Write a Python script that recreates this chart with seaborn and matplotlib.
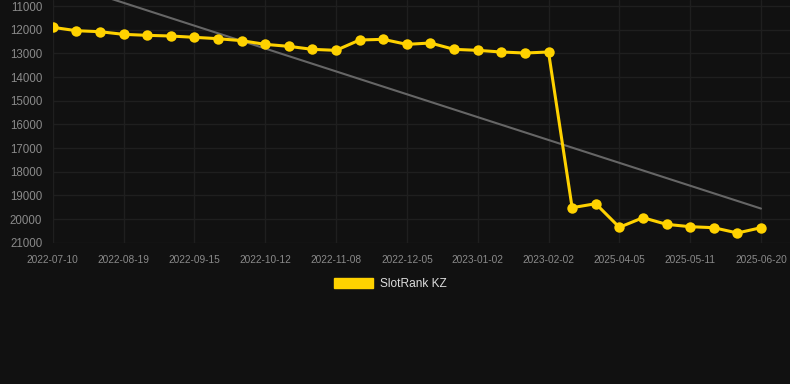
import matplotlib
matplotlib.use("Agg")
import matplotlib.pyplot as plt
from matplotlib.patches import Patch
import numpy as np
import pandas as pd
import seaborn as sns

# rank per observation (lower is better, axis inverted)
ranks = [11900, 12043, 12085, 12197, 12239, 12267, 12323, 12380, 12464, 12620,
         12704, 12831, 12873, 12436, 12408, 12620, 12563, 12831, 12873, 12943,
         12986, 12943, 19521, 19352, 20350, 19943, 20224, 20324, 20366, 20590,
         20366]
tick_labels = ["2022-07-10", "2022-08-19", "2022-09-15", "2022-10-12",
               "2022-11-08", "2022-12-05", "2023-01-02", "2023-02-02",
               "2025-04-05", "2025-05-11", "2025-06-20"]
y_ticks = list(range(11000, 21001, 1000))
series_name = "SlotRank KZ"

BG = "#111111"
GRID = "#1f1f1f"
YELLOW = "#ffd200"

sns.set_style("dark", {"axes.facecolor": BG, "figure.facecolor": BG})
plt.rcParams["font.family"] = ["Liberation Sans", "DejaVu Sans"]

df = pd.DataFrame({"idx": np.arange(len(ranks)), "rank": ranks})
slope, intercept = np.polyfit(df["idx"], df["rank"], 1)
df["trend"] = intercept + slope * df["idx"]

W, H = 790, 384
fig = plt.figure(figsize=(W / 100, H / 100), dpi=100)
left, bottom = 52.7, 242.7
ax = fig.add_axes([left / W, 1 - bottom / H, (W - left) / W, bottom / H])
ax.set_facecolor(BG)

sns.lineplot(data=df, x="idx", y="trend", ax=ax, color="#666666", lw=1.5)
sns.lineplot(data=df, x="idx", y="rank", ax=ax, color=YELLOW, lw=2.2,
             marker="o", markersize=7.5, markeredgewidth=0, markerfacecolor=YELLOW)

ax.set_xlim(0, 30 + (W - 761) / 23.61)
ax.set_ylim(21000, 10746)
ax.set_xticks(df["idx"][::3])
ax.set_xticklabels(tick_labels)
ax.set_yticks(y_ticks)
ax.set_yticklabels([str(v) for v in y_ticks])
ax.set_xlabel(""); ax.set_ylabel("")

ax.grid(True, color=GRID, lw=1)
for s in ax.spines.values():
    s.set_visible(False)
ax.tick_params(axis="x", length=6, color=GRID, labelsize=7.3, labelcolor="#8a8a8a", pad=2.5)
ax.tick_params(axis="y", length=0, labelsize=8.3, labelcolor="#8a8a8a", pad=7.5)

handle = Patch(facecolor=YELLOW, edgecolor=YELLOW, label=series_name)
fig.legend(handles=[handle], loc="center", bbox_to_anchor=(390 / W, 1 - 284 / H),
           frameon=False, fontsize=8.6, labelcolor="#dddddd",
           handlelength=3.3, handleheight=0.9, handletextpad=0.55)

fig.savefig("out.png", dpi=100, facecolor=BG)
